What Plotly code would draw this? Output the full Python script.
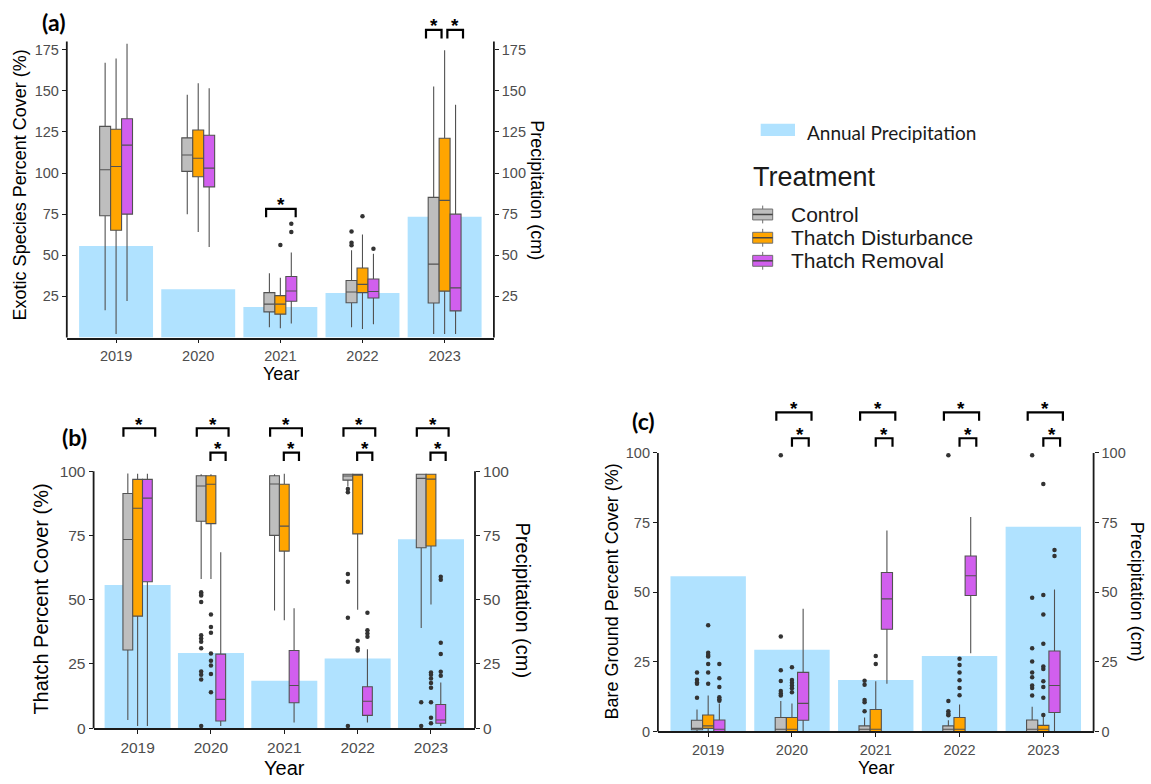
import plotly.graph_objects as go

W, H = 1151, 784

# ---------------------------------------------------------------- data
years = ["2019", "2020", "2021", "2022", "2023"]
precip_cm = [55.7, 29.3, 18.5, 27.1, 73.5]
treatments = ["Control", "Thatch Disturbance", "Thatch Removal"]

# (a) exotic species percent cover: box statistics per treatment, by year
exotic_lower = {
    "Control": [16.6, 75.0, 6.2, 6.2, 2.2],
    "Thatch Disturbance": [2.2, 64.2, 5.6, 5.2, 2.2],
    "Thatch Removal": [22.2, 55.0, 8.6, 8.0, 2.2],
}
exotic_q1 = {
    "Control": [74.0, 101.0, 15.6, 21.1, 21.0],
    "Thatch Disturbance": [65.2, 97.8, 14.2, 27.3, 28.2],
    "Thatch Removal": [75.0, 91.6, 22.1, 24.0, 16.2],
}
exotic_median = {
    "Control": [102.0, 111.0, 20.3, 27.7, 44.6],
    "Thatch Disturbance": [104.0, 109.0, 20.3, 32.3, 83.4],
    "Thatch Removal": [117.0, 103.0, 28.3, 28.0, 30.2],
}
exotic_q3 = {
    "Control": [128.4, 121.4, 27.3, 34.7, 85.2],
    "Thatch Disturbance": [126.6, 126.2, 25.5, 42.3, 121.2],
    "Thatch Removal": [133.0, 123.0, 37.1, 35.6, 75.0],
}
exotic_upper = {
    "Control": [167.0, 147.6, 39.1, 53.1, 152.6],
    "Thatch Disturbance": [169.6, 154.6, 36.3, 62.6, 174.6],
    "Thatch Removal": [178.6, 151.6, 51.7, 51.0, 141.6],
}
exotic_outliers = {
    "Control": {"2022": [64.4, 57.6, 56.1]},
    "Thatch Disturbance": {"2021": [56.2], "2022": [73.8]},
    "Thatch Removal": {"2021": [69.2, 64.2], "2022": [54.0]},
}
exotic_signif = [
    ("2021", "Control", "Thatch Removal"),
    ("2023", "Control", "Thatch Disturbance"),
    ("2023", "Thatch Disturbance", "Thatch Removal"),
]

# (b) thatch percent cover
thatch_lower = {
    "Control": [3.2, 58.0, 45.8, 94.0, 39.0],
    "Thatch Disturbance": [0.9, 58.0, 42.0, 46.1, 48.1],
    "Thatch Removal": [0.9, 0.9, 2.2, 2.2, 0.9],
}
thatch_q1 = {
    "Control": [30.4, 80.5, 75.0, 96.5, 70.2],
    "Thatch Disturbance": [43.6, 79.6, 68.9, 75.6, 70.9],
    "Thatch Removal": [57.0, 2.8, 9.9, 5.0, 1.9],
}
thatch_median = {
    "Control": [73.4, 94.2, 95.0, 98.1, 97.2],
    "Thatch Disturbance": [85.6, 94.9, 78.6, 98.6, 96.9],
    "Thatch Removal": [89.5, 11.2, 16.6, 10.5, 3.2],
}
thatch_q3 = {
    "Control": [91.3, 98.2, 98.2, 98.8, 98.8],
    "Thatch Disturbance": [96.8, 98.2, 94.9, 98.8, 98.8],
    "Thatch Removal": [96.8, 28.8, 30.2, 16.1, 9.2],
}
thatch_upper = {
    "Control": [99.1, 98.8, 98.8, 99.0, 99.0],
    "Thatch Disturbance": [99.0, 98.8, 99.0, 99.0, 99.0],
    "Thatch Removal": [99.0, 68.5, 46.7, 30.7, 17.8],
}
thatch_outliers = {
    "Control": {
        "2020": [52.9, 52.2, 51.6, 49.1, 36.2, 34.9, 33.6, 31.1, 22.1, 20.8, 18.9, 0.9],
        "2022": [93.1, 91.8, 60.0, 57.0, 43.0, 0.9],
        "2023": [10.1, 0.9],
    },
    "Thatch Disturbance": {
        "2020": [44.2, 39.4, 37.1, 29.1, 26.2, 24.4, 21.1, 14.0],
        "2022": [34.0, 31.1, 30.2],
        "2023": [21.7, 20.8, 19.3, 17.6, 15.7, 10.1, 4.1, 1.9],
    },
    "Thatch Removal": {
        "2022": [44.9, 38.1, 36.8, 35.6],
        "2023": [58.9, 57.8, 33.2, 28.9, 22.0, 20.4],
    },
}
thatch_signif = [("2019", "Control", "Thatch Removal")] + [
    (y, a, "Thatch Removal") for y in years[1:] for a in ("Control", "Thatch Disturbance")
]

# (c) bare ground percent cover
bare_lower = {
    "Control": [0.0, 0.0, 0.0, 0.0, 0.0],
    "Thatch Disturbance": [0.0, 0.0, 0.0, 0.0, 0.0],
    "Thatch Removal": [0.0, 0.0, 17.1, 28.1, 0.0],
}
bare_q1 = {
    "Control": [0.6, 0.0, 0.0, 0.0, 0.0],
    "Thatch Disturbance": [1.1, 0.0, 0.0, 0.0, 0.0],
    "Thatch Removal": [0.0, 4.0, 36.7, 48.8, 6.8],
}
bare_median = {
    "Control": [1.1, 0.8, 0.8, 0.8, 0.8],
    "Thatch Disturbance": [2.0, 0.8, 0.8, 0.8, 0.8],
    "Thatch Removal": [0.8, 10.1, 47.6, 55.9, 16.5],
}
bare_q3 = {
    "Control": [4.0, 5.0, 2.0, 2.0, 4.1],
    "Thatch Disturbance": [5.9, 5.0, 7.9, 5.0, 2.2],
    "Thatch Removal": [4.1, 21.2, 57.1, 63.0, 28.9],
}
bare_upper = {
    "Control": [7.9, 10.9, 5.0, 4.0, 8.9],
    "Thatch Disturbance": [12.9, 10.0, 18.0, 9.7, 5.6],
    "Thatch Removal": [10.0, 44.1, 72.2, 77.0, 51.0],
}
bare_outliers = {
    "Control": {
        "2019": [21.2, 18.6, 17.6, 17.1, 12.1],
        "2020": [99.2, 34.1, 22.0, 18.1, 14.5, 13.6, 12.9],
        "2021": [18.2, 16.8, 11.3, 10.5, 7.3],
        "2022": [99.2, 10.9, 7.3, 6.4, 5.8],
        "2023": [99.2, 48.0, 29.9, 25.1, 21.2, 19.5, 16.5, 15.6, 12.9],
    },
    "Thatch Disturbance": {
        "2019": [38.1, 28.3, 27.5, 26.9, 24.2, 21.2, 17.1],
        "2020": [23.1, 18.5, 17.5, 16.5, 15.5, 14.1],
        "2021": [27.1, 24.2],
        "2022": [26.1, 23.9, 21.2, 18.4, 15.6, 13.0],
        "2023": [88.9, 49.0, 42.0, 31.5, 23.3, 22.4, 18.0, 16.0, 12.1, 5.9],
    },
    "Thatch Removal": {
        "2019": [24.2, 19.1, 16.0, 12.3, 11.6, 11.0],
        "2023": [65.2, 63.0],
    },
}
bare_signif = [(y, a, "Thatch Removal") for y in years[1:] for a in ("Control", "Thatch Disturbance")]

# ---------------------------------------------------------------- styling
FILL = {"Control": "#BEBEBE", "Thatch Disturbance": "#FFA500", "Thatch Removal": "#D15FEE"}
PRECIP_COLOR = "#B0E2FF"
EDGE = "#525252"
AXIS = "#1A1A1A"
TICK_TXT = "#4D4D4D"
FONT = "Liberation Sans, Arial, sans-serif"
LABEL_FONT = "Lato, Open Sans, sans-serif"
BOXGAP = 0.6
SLOT = (1 - BOXGAP) / 3          # width of one box in category units

CR = ("Control", "Thatch Removal")
CD = ("Control", "Thatch Disturbance")
DR = ("Thatch Disturbance", "Thatch Removal")

panels = [
    dict(stats=(exotic_lower, exotic_q1, exotic_median, exotic_q3, exotic_upper),
         outliers=exotic_outliers, signif=exotic_signif,
         xa="x", yp="y", yc="y2", box=(66.8, 12, 493.9, 341), y_max=198, axis_top=180,
         tickvals=[25, 50, 75, 100, 125, 150, 175], tick_size=14.5, title_size=18,
         ytitle="Exotic Species Percent Cover (%)", ytitle_xy=(19.6, 186.7),
         ptitle_xy=(537.5, 191.7), year_xy=(281, 378), label="(a)", label_xy=(53, 22),
         spans={CR: (-1.3, 1.4), CD: (-1.7, -0.28), DR: (0.25, 1.68)},
         level=lambda year, pair: {"2021": 78.2, "2023": 187.0}[year]),
    dict(stats=(thatch_lower, thatch_q1, thatch_median, thatch_q3, thatch_upper),
         outliers=thatch_outliers, signif=thatch_signif,
         xa="x2", yp="y3", yc="y4", box=(93.6, 413.7, 475.0, 735.7), y_max=124, axis_top=100,
         tickvals=[0, 25, 50, 75, 100], tick_size=15.5, title_size=20,
         ytitle="Thatch Percent Cover (%)", ytitle_xy=(41, 605.8),
         ptitle_xy=(523, 606.7), year_xy=(284.6, 775.5), label="(b)", label_xy=(74, 441),
         spans={CR: (-1.45, 1.8), DR: (-0.05, 1.5)},
         level=lambda year, pair: {CR: 116.7, DR: 107.2}[pair]),
    dict(stats=(bare_lower, bare_q1, bare_median, bare_q3, bare_upper),
         outliers=bare_outliers, signif=bare_signif,
         xa="x3", yp="y5", yc="y6", box=(657.9, 401.4, 1093.6, 739.0), y_max=120, axis_top=100,
         tickvals=[0, 25, 50, 75, 100], tick_size=14.5, title_size=18,
         ytitle="Bare Ground Percent Cover (%)", ytitle_xy=(612, 597.5),
         ptitle_xy=(1136.4, 598.3), year_xy=(875.7, 776), label="(c)", label_xy=(643.5, 425),
         spans={CR: (-1.4, 1.75), DR: (0.0, 1.5)},
         level=lambda year, pair: {CR: 114.6, DR: 105.3}[pair]),
]


def fx(px):
    return px / W


def fy(py):
    return 1 - py / H


fig = go.Figure()
shapes, annotations, layout_axes = [], [], {}

for p in panels:
    x0p, y0p, x1p, y1p = p["box"]
    xdom = [fx(x0p), fx(x1p)]
    ydom = [fy(y1p), fy(y0p)]
    scale = (y1p - y0p) / p["y_max"]     # pixels per data unit
    lower, q1, med, q3, upper = p["stats"]

    # precipitation bars (right-hand axis, drawn underneath)
    fig.add_trace(go.Bar(x=years, y=precip_cm, marker=dict(color=PRECIP_COLOR, line_width=0),
                         xaxis=p["xa"], yaxis=p["yp"], showlegend=False,
                         name="Annual Precipitation", hoverinfo="y"))

    for t in treatments:
        fig.add_trace(go.Box(
            x=years, q1=q1[t], median=med[t], q3=q3[t],
            lowerfence=lower[t], upperfence=upper[t],
            name=t, fillcolor=FILL[t], line=dict(color=EDGE, width=1.1),
            whiskerwidth=0, boxpoints=False, offsetgroup=t, alignmentgroup="trt",
            xaxis=p["xa"], yaxis=p["yc"], showlegend=False))
        ox, oy = [], []
        for yr, vals in p["outliers"].get(t, {}).items():
            ox += [yr] * len(vals)
            oy += vals
        fig.add_trace(go.Scatter(
            x=ox, y=oy, mode="markers", marker=dict(color="#333333", size=4.5),
            offsetgroup=t, alignmentgroup="trt", xaxis=p["xa"], yaxis=p["yc"],
            showlegend=False, name=t))

    # significance brackets
    leg = 8.5 / scale
    for yr, a, b in p["signif"]:
        i = years.index(yr)
        s0, s1 = p["spans"][(a, b)]
        xa0, xa1 = i + s0 * SLOT, i + s1 * SLOT
        top = p["level"](yr, (a, b))
        shapes.append(dict(
            type="path", xref=p["xa"], yref=p["yc"],
            path=f"M{xa0},{top - leg} L{xa0},{top} L{xa1},{top} L{xa1},{top - leg}",
            line=dict(color="#000000", width=2.2)))
        annotations.append(dict(
            x=(xa0 + xa1) / 2, y=top, xref=p["xa"], yref=p["yc"], text="*", showarrow=False,
            yanchor="middle", yshift=4,
            font=dict(family=FONT, size=19, color="#000000", weight="bold")))

    # vertical axis lines from 0 to the last tick
    ytop = ydom[0] + (ydom[1] - ydom[0]) * p["axis_top"] / p["y_max"]
    for xv in xdom:
        shapes.append(dict(type="line", xref="paper", yref="paper", x0=xv, x1=xv,
                           y0=ydom[0], y1=ytop, line=dict(color=AXIS, width=1.8)))

    tickfont = dict(family=FONT, size=p["tick_size"], color=TICK_TXT)
    xname = "xaxis" + p["xa"][1:]
    layout_axes[xname] = dict(
        domain=xdom, anchor=p["yp"], type="category", categoryorder="array",
        categoryarray=years, range=[-0.6, 4.6], showline=True, linecolor=AXIS,
        linewidth=1.8, ticks="outside", ticklen=4, tickcolor=AXIS, tickwidth=1.2,
        tickfont=tickfont, showgrid=False, zeroline=False)
    common_y = dict(range=[0, p["y_max"]], tickvals=p["tickvals"], ticks="outside",
                    ticklen=4, tickcolor=AXIS, tickwidth=1.2, tickfont=tickfont,
                    showgrid=False, zeroline=False, showline=False)
    layout_axes["yaxis" + p["yp"][1:]] = dict(domain=ydom, anchor=p["xa"], side="right",
                                              **common_y)
    layout_axes["yaxis" + p["yc"][1:]] = dict(overlaying=p["yp"], anchor=p["xa"],
                                              side="left", **common_y)

    title_font = dict(family=FONT, size=p["title_size"], color="#000000")
    annotations += [
        dict(text=p["ytitle"], x=fx(p["ytitle_xy"][0]), y=fy(p["ytitle_xy"][1]),
             xref="paper", yref="paper", textangle=-90, showarrow=False, font=title_font,
             xanchor="center", yanchor="middle"),
        dict(text="Precipitation (cm)", x=fx(p["ptitle_xy"][0]), y=fy(p["ptitle_xy"][1]),
             xref="paper", yref="paper", textangle=90, showarrow=False, font=title_font,
             xanchor="center", yanchor="middle"),
        dict(text="Year", x=fx(p["year_xy"][0]), y=fy(p["year_xy"][1]), xref="paper",
             yref="paper", showarrow=False, font=title_font, xanchor="center",
             yanchor="middle"),
        dict(text=p["label"], x=fx(p["label_xy"][0]), y=fy(p["label_xy"][1]), xref="paper",
             yref="paper", showarrow=False, xanchor="center", yanchor="middle",
             font=dict(family=LABEL_FONT, size=23, color="#000000", weight="bold")),
    ]

# ---------------------------------------------------------------- legend
shapes.append(dict(type="rect", xref="paper", yref="paper", x0=fx(760.7), x1=fx(795),
                   y0=fy(137.3), y1=fy(125), fillcolor=PRECIP_COLOR, line_width=0))
annotations.append(dict(text="Annual Precipitation", x=fx(805), y=fy(134), xref="paper",
                        yref="paper", showarrow=False, xanchor="left", yanchor="middle",
                        font=dict(family=LABEL_FONT, size=19, color="#1A1A1A")))
annotations.append(dict(text="Treatment", x=fx(751), y=fy(179), xref="paper", yref="paper",
                        showarrow=False, xanchor="left", yanchor="middle",
                        font=dict(family=FONT, size=27, color="#1A1A1A")))
for t, cy in zip(treatments, [216.7, 240.2, 263.5]):
    shapes += [
        dict(type="line", xref="paper", yref="paper", x0=fx(762.7), x1=fx(762.7),
             y0=fy(cy - 9), y1=fy(cy + 9), line=dict(color="#6E6E6E", width=1)),
        dict(type="rect", xref="paper", yref="paper", x0=fx(752.7), x1=fx(772.7),
             y0=fy(cy + 5.5), y1=fy(cy - 5.5), fillcolor=FILL[t],
             line=dict(color="#6E6E6E", width=1)),
        dict(type="line", xref="paper", yref="paper", x0=fx(752.7), x1=fx(772.7),
             y0=fy(cy), y1=fy(cy), line=dict(color="#444444", width=1.5)),
    ]
    annotations.append(dict(text=t, x=fx(789), y=fy(cy), xref="paper", yref="paper",
                            showarrow=False, xanchor="left", yanchor="middle",
                            font=dict(family=FONT, size=21, color="#1A1A1A")))

fig.update_layout(
    width=W, height=H, margin=dict(l=0, r=0, t=0, b=0, pad=0),
    paper_bgcolor="white", plot_bgcolor="rgba(0,0,0,0)",
    boxmode="group", boxgap=BOXGAP, boxgroupgap=0,
    scattermode="group", scattergap=BOXGAP,
    bargap=0.1, showlegend=False,
    shapes=shapes, annotations=annotations,
    font=dict(family=FONT),
    **layout_axes,
)

fig.write_html("out.html")
